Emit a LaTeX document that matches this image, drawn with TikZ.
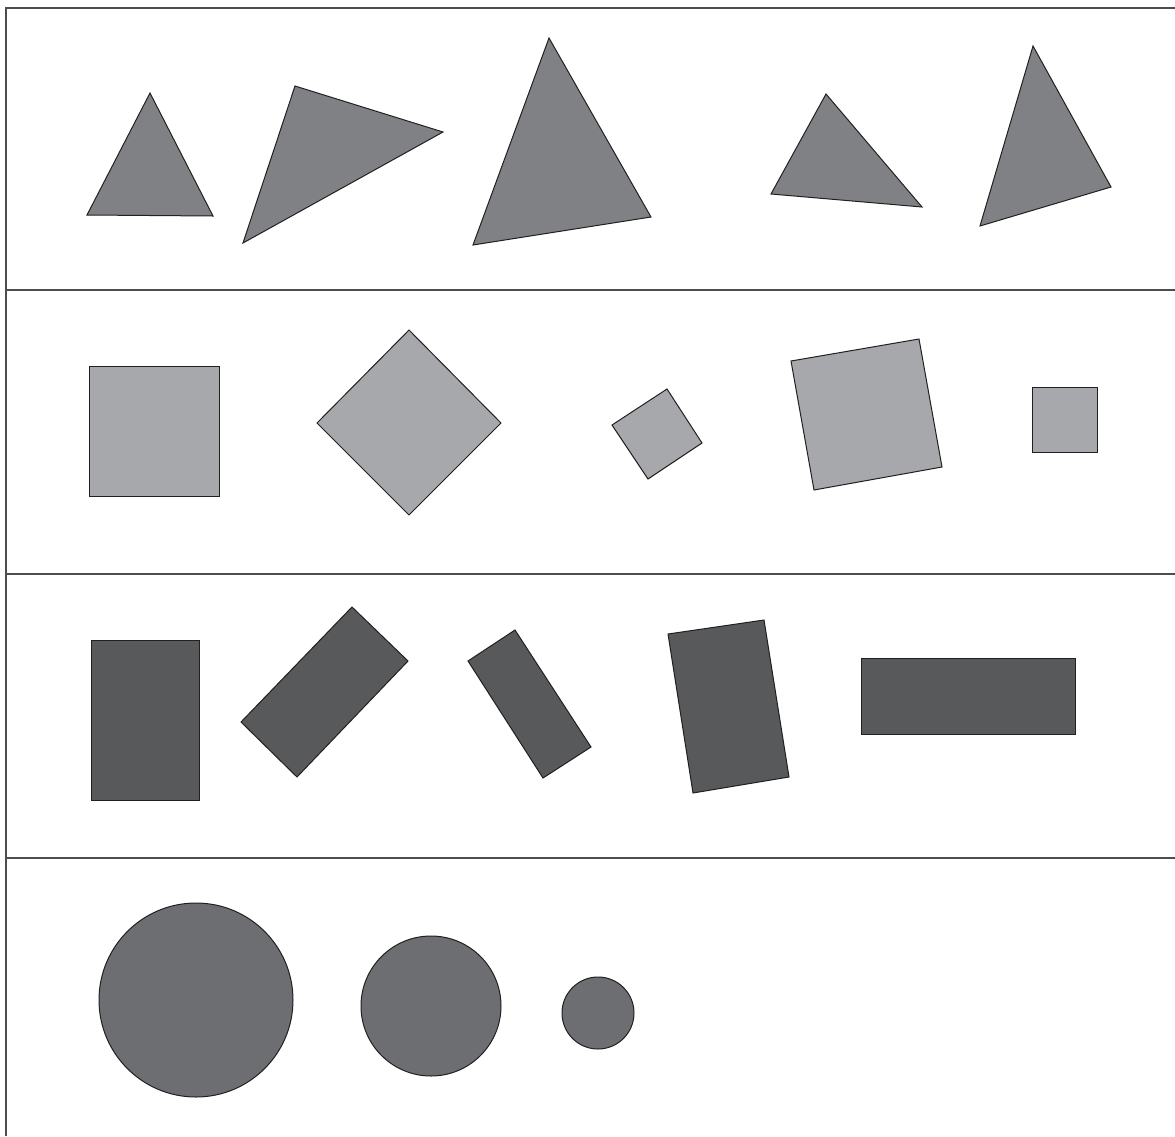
\documentclass[tikz,border=0pt]{standalone}
\usepackage{tikz}
\definecolor{tricolor}{RGB}{128,129,133}
\definecolor{sqcolor}{RGB}{167,168,171}
\definecolor{rectcolor}{RGB}{88,89,91}
\definecolor{circcolor}{RGB}{109,110,114}
\definecolor{edgecolor}{RGB}{35,31,32}

\begin{document}
\begin{tikzpicture}[
    x=1pt, y=-1pt,
    frame/.style={draw=edgecolor!80, line width=1.2pt},
    shp/.style={draw=edgecolor, line width=1pt, line join=miter},
    tri/.style={shp, fill=tricolor},
    sq/.style={shp, fill=sqcolor},
    bar/.style={shp, fill=rectcolor},
    disc/.style={shp, fill=circcolor}
]
\useasboundingbox (0,0) rectangle (1175,1136);

% ===== FRAME AND ROWS =====
\draw[frame] (6,1136) -- (6,8) -- (1175,8);
\foreach \yy in {290,574,858}
    \draw[frame] (6,\yy) -- (1175,\yy);

% ===== TRIANGLES =====
\draw[tri] (150,93) -- (213,216) -- (87,215) -- cycle;
\draw[tri] (295,86) -- (443,132) -- (243,243) -- cycle;
\draw[tri] (549,38) -- (651,217) -- (473,245) -- cycle;
\draw[tri] (826,94) -- (922,207) -- (771,194) -- cycle;
\draw[tri] (1033,46) -- (1111,187) -- (980,226) -- cycle;

% ===== SQUARES =====
\draw[sq] (89,366) rectangle (219,496);
\draw[sq] (409,330) -- (501,423) -- (409,515) -- (317,423) -- cycle;
\draw[sq] (667,389) -- (702,443) -- (648,479) -- (612,425) -- cycle;
\draw[sq] (791,361) -- (919,339) -- (942,467) -- (814,490) -- cycle;
\draw[sq] (1032,387) rectangle (1097,452);

% ===== RECTANGLES =====
\draw[bar] (91,640) rectangle (199,800);
\draw[bar] (352,607) -- (408,661) -- (297,777) -- (241,722) -- cycle;
\draw[bar] (468,661) -- (515,630) -- (591,747) -- (543,778) -- cycle;
\draw[bar] (668,634) -- (764,620) -- (789,777) -- (693,793) -- cycle;
\draw[bar] (861,658) rectangle (1075,734);

% ===== CIRCLES =====
\draw[disc] (196,1000) circle[radius=97];
\draw[disc] (431,1006) circle[radius=70];
\draw[disc] (598,1013) circle[radius=36];

\end{tikzpicture}
\end{document}
